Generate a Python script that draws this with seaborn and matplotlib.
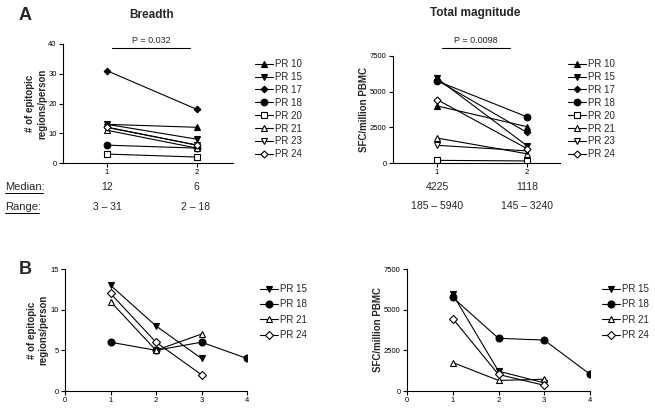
import pandas as pd
import seaborn as sns
import matplotlib.pyplot as plt
from matplotlib.lines import Line2D

# -------------------------------
# Data
# -------------------------------
subjects_a = ["PR 10", "PR 15", "PR 17", "PR 18", "PR 20", "PR 21", "PR 23", "PR 24"]
timepoints_a = [1, 2]
breadth_t1 = [13, 13, 31, 6, 3, 11, 12, 12]
breadth_t2 = [12, 8, 18, 5, 2, 5, 6, 6]
magnitude_t1 = [4000, 5940, 5800, 5750, 185, 1750, 1240, 4450]
magnitude_t2 = [2550, 1220, 2150, 3240, 145, 650, 850, 1016]

subjects_b = ["PR 15", "PR 18", "PR 21", "PR 24"]
timepoints_b = [[1, 2, 3], [1, 2, 3, 4], [1, 2, 3], [1, 2, 3]]
breadth_b = [[13, 8, 4], [6, 5, 6, 4], [11, 5, 7], [12, 6, 2]]
magnitude_b = [[5940, 1220, 500], [5750, 3240, 3130, 1030], [1750, 650, 720], [4450, 1016, 350]]

median_breadth = ["12", "6"]
range_breadth = ["3 – 31", "2 – 18"]
median_mag = ["4225", "1118"]
range_mag = ["185 – 5940", "145 – 3240"]
p_breadth = "P = 0.032"
p_mag = "P = 0.0098"

# marker style per subject: (marker, face colour, size factor)
styles = {
    "PR 10": ("^", "black", 1.0),
    "PR 15": ("v", "black", 1.0),
    "PR 17": ("D", "black", 0.7),
    "PR 18": ("o", "black", 1.0),
    "PR 20": ("s", "white", 1.0),
    "PR 21": ("^", "white", 1.0),
    "PR 23": ("v", "white", 1.0),
    "PR 24": ("D", "white", 0.75),
}

# long tables
rows = []
for i, s in enumerate(subjects_a):
    rows.append((s, 1, breadth_t1[i], magnitude_t1[i]))
    rows.append((s, 2, breadth_t2[i], magnitude_t2[i]))
df_a = pd.DataFrame(rows, columns=["subject", "time", "breadth", "magnitude"])

rows = []
for s, t, b, m in zip(subjects_b, timepoints_b, breadth_b, magnitude_b):
    for ti, bi, mi in zip(t, b, m):
        rows.append((s, ti, bi, mi))
df_b = pd.DataFrame(rows, columns=["subject", "time", "breadth", "magnitude"])

# -------------------------------
# Figure setup
# -------------------------------
sns.set_style("ticks")
plt.rcParams["font.family"] = ["Liberation Sans", "DejaVu Sans"]
plt.rcParams["axes.linewidth"] = 0.8

W, H = 655, 409
fig = plt.figure(figsize=(W / 100, H / 100), dpi=100)


def px_axes(x0, y0, x1, y1):
    return fig.add_axes([x0 / W, 1 - y1 / H, (x1 - x0) / W, (y1 - y0) / H])


def px(x, y):
    return x / W, 1 - y / H


def draw(ax, df, col, subjects, ms):
    for s in subjects:
        m, fc, f = styles[s]
        d = df[df["subject"] == s]
        sns.lineplot(data=d, x="time", y=col, ax=ax, color="black", lw=0.8,
                     marker=m, markerfacecolor=fc, markeredgecolor="black",
                     markeredgewidth=0.8, markersize=ms * f, label=s)


def style_axis(ax, ylabel):
    sns.despine(ax=ax)
    ax.tick_params(direction="out", length=3, width=0.8, labelsize=5.5, pad=1.5, colors="black")
    ax.set_xlabel("")
    ax.set_ylabel(ylabel, fontsize=7, fontweight="bold", labelpad=1)
    for sp in ax.spines.values():
        sp.set_color("black")


def legend(ax, x, y, spacing):
    ax.legend(loc="upper left", bbox_to_anchor=px(x, y), bbox_transform=fig.transFigure,
              frameon=False, fontsize=7, handlelength=1.9, handletextpad=0.2,
              labelspacing=spacing, borderpad=0, borderaxespad=0)


# -------------------------------
# Panel A: Breadth
# -------------------------------
ax1 = px_axes(63, 44, 233, 163)
draw(ax1, df_a, "breadth", subjects_a, 4.8)
ax1.set_xlim(0.51, 2.4)
ax1.set_ylim(0, 40)
ax1.set_xticks(timepoints_a)
ax1.set_yticks([0, 10, 20, 30, 40])
style_axis(ax1, "# of epitopic\nregions/person")
legend(ax1, 255, 59, 0.3)
ax1.plot([1.056, 1.92], [38.6, 38.6], color="black", lw=0.8, clip_on=False)
ax1.text(1.49, 39.5, p_breadth, ha="center", va="bottom", fontsize=6.5)

# -------------------------------
# Panel A: Total magnitude
# -------------------------------
ax2 = px_axes(393, 56, 560, 163)
draw(ax2, df_a, "magnitude", subjects_a, 4.8)
ax2.set_xlim(0.51, 2.37)
ax2.set_ylim(0, 7500)
ax2.set_xticks(timepoints_a)
ax2.set_yticks([0, 2500, 5000, 7500])
style_axis(ax2, "SFC/million PBMC")
legend(ax2, 568, 59, 0.3)
ax2.plot([1.056, 1.81], [8060, 8060], color="black", lw=0.8, clip_on=False)
ax2.text(1.43, 8250, p_mag, ha="center", va="bottom", fontsize=6.5)

# -------------------------------
# Panel B
# -------------------------------
ax3 = px_axes(65, 269, 247, 391)
draw(ax3, df_b, "breadth", subjects_b, 5)
ax3.set_xlim(0, 4)
ax3.set_ylim(0, 15)
ax3.set_xticks([0, 1, 2, 3, 4])
ax3.set_yticks([0, 5, 10, 15])
style_axis(ax3, "# of epitopic\nregions/person")
legend(ax3, 260, 284, 0.55)

ax4 = px_axes(407, 269, 590, 391)
draw(ax4, df_b, "magnitude", subjects_b, 5)
ax4.set_xlim(0, 4)
ax4.set_ylim(0, 7500)
ax4.set_xticks([0, 1, 2, 3, 4])
ax4.set_yticks([0, 2500, 5000, 7500])
style_axis(ax4, "SFC/million PBMC")
legend(ax4, 602, 284, 0.55)

# -------------------------------
# Titles, panel letters, summary rows
# -------------------------------
fig.text(*px(25, 15), "A", fontsize=13, fontweight="bold", ha="center", va="center")
fig.text(*px(25, 270), "B", fontsize=13, fontweight="bold", ha="center", va="center")
fig.text(*px(152, 15), "Breadth", fontsize=8.5, fontweight="bold", ha="center", va="center")
fig.text(*px(475, 13), "Total magnitude", fontsize=8.5, fontweight="bold", ha="center", va="center")

fig.text(*px(5, 187), "Median:", fontsize=8, ha="left", va="center")
fig.text(*px(5, 207), "Range:", fontsize=8, ha="left", va="center")
fig.add_artist(Line2D([5 / W, 43 / W], [1 - 193 / H, 1 - 193 / H], color="black", lw=0.7))
fig.add_artist(Line2D([5 / W, 39 / W], [1 - 213 / H, 1 - 213 / H], color="black", lw=0.7))

for xp, med, rng in zip([107, 196], median_breadth, range_breadth):
    fig.text(*px(xp, 187), med, fontsize=7.5, ha="center", va="center")
    fig.text(*px(xp, 207), rng, fontsize=7.5, ha="center", va="center")
for xp, med, rng in zip([437, 527], median_mag, range_mag):
    fig.text(*px(xp, 187), med, fontsize=7.5, ha="center", va="center")
    fig.text(*px(xp, 206), rng, fontsize=7.5, ha="center", va="center")

fig.savefig("out.png", dpi=100)
